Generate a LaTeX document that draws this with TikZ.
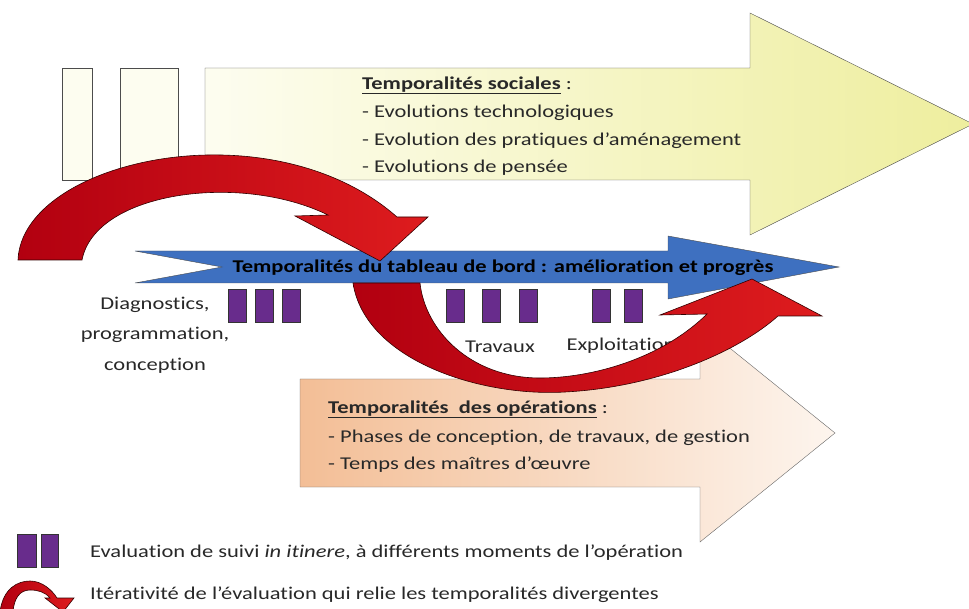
\documentclass[tikz,border=0pt]{standalone}
\usepackage{fontspec}
\setmainfont{Carlito}[FakeStretch=1.25,Ligatures=NoCommon]
\usetikzlibrary{positioning}
\definecolor{socyellow}{RGB}{238,238,158}
\definecolor{soclight}{RGB}{253,253,240}
\definecolor{opsorange}{RGB}{243,190,150}
\definecolor{opslight}{RGB}{253,245,238}
\definecolor{tabblue}{RGB}{62,112,192}
\definecolor{evalpurple}{RGB}{104,44,140}
\definecolor{arrowdark}{RGB}{178,0,16}
\definecolor{arrowred}{RGB}{222,28,30}
\definecolor{textgray}{RGB}{40,40,40}

\begin{document}
\begin{tikzpicture}[x=1pt,y=-1pt,
  txt/.style={anchor=west,inner sep=0pt,yshift=-2.5pt,text=textgray,font=\fontsize{18}{20}\selectfont},
  lbl/.style={inner sep=0pt,yshift=-2pt,text=textgray,align=center,font=\fontsize{18}{30.5}\selectfont},
  evalbox/.style={draw=black!80,fill=evalpurple,inner sep=0pt,minimum width=18pt,minimum height=33pt},
  oldbox/.style={draw=black!70,fill=soclight},
  redarrow/.style={draw=black!80!red,line width=0.6pt,left color=arrowdark,right color=arrowred}]
\useasboundingbox (0,0) rectangle (969,609);

% temporalites sociales
\draw[oldbox] (62,68) rectangle (92,180);
\draw[oldbox] (120,68) rectangle (178,180);
\draw[draw=black!70,left color=soclight,right color=socyellow]
  (205,68) -- (750,68) -- (750,13) -- (973,124) -- (750,235) -- (750,180) -- (205,180) -- cycle;
\node[txt] (soc) at (362,83) {\textbf{\underline{Temporalités sociales}} :};
\node[txt] (soc1) at (362,110) {- Evolutions technologiques};
\node[txt] (soc2) at (362,138) {- Evolution des pratiques d’aménagement};
\node[txt] (soc3) at (362,165) {- Evolutions de pensée};

% temporalites des operations
\draw[draw=black!60,left color=opsorange,right color=opslight]
  (300,379) -- (700,379) -- (700,324) -- (835,433) -- (700,542) -- (700,487) -- (300,487) -- cycle;
\node[txt] (ops) at (328,407) {\textbf{\underline{Temporalités\ \ des opérations}} :};
\node[txt] (ops1) at (328,435) {- Phases de conception, de travaux, de gestion};
\node[txt] (ops2) at (328,462) {- Temps des maîtres d’œuvre};

% tableau de bord
\draw[draw=black!70,fill=tabblue]
  (135,251) -- (668,251) -- (668,236) -- (839,267) -- (668,299) -- (668,283) -- (135,283) -- (222,267) -- cycle;
\node[inner sep=0pt,yshift=-2pt,font=\fontsize{18}{20}\selectfont\bfseries] (tab) at (503,266) {Temporalités du tableau de bord : amélioration et progrès};

% evaluations
\foreach \x [count=\i] in {237,264,291,455,491,528,601,633}
  \node[evalbox] (eval\i) at (\x,306) {};
\node[lbl] (diag) at (155,333) {Diagnostics,\\programmation,\\conception};
\node[lbl] (trav) at (500,345) {Travaux};
\node[lbl] (expl) at (621,344) {Exploitation};

% iterations
\draw[redarrow] (18,260) .. controls (22,160) and (270,105) .. (397,217) -- (428,217) -- (380,261)
  -- (295,216) -- (328,215) .. controls (240,172) and (95,192) .. (82,260) -- cycle;
\draw[redarrow] (353,283) .. controls (365,360) and (480,397) .. (565,392) .. controls (660,387) and (740,350) .. (778,316)
  -- (822,316) -- (752,279) -- (660,315) -- (707,314) .. controls (660,360) and (590,378) .. (540,378)
  .. controls (470,378) and (425,330) .. (420,283) -- cycle;

% legende
\node[evalbox,minimum width=19pt] (leg1) at (26.5,550.5) {};
\node[evalbox,minimum width=17pt] (leg2) at (49.5,550.5) {};
\node[txt] (legeval) at (90,550) {Evaluation de suivi \textit{in itinere}, à différents moments de l’opération};
\draw[redarrow] (0,612) .. controls (3,588) and (18,581) .. (30,581) .. controls (42,581) and (52,590) .. (57,598)
  -- (74,598) -- (63,612) -- (45,598) -- (50,598) .. controls (45,592) and (38,590) .. (30,590)
  .. controls (20,590) and (14,598) .. (13,612) -- cycle;
\node[txt] (legiter) at (90,592) {Itérativité de l’évaluation qui relie les temporalités divergentes};
\end{tikzpicture}
\end{document}
